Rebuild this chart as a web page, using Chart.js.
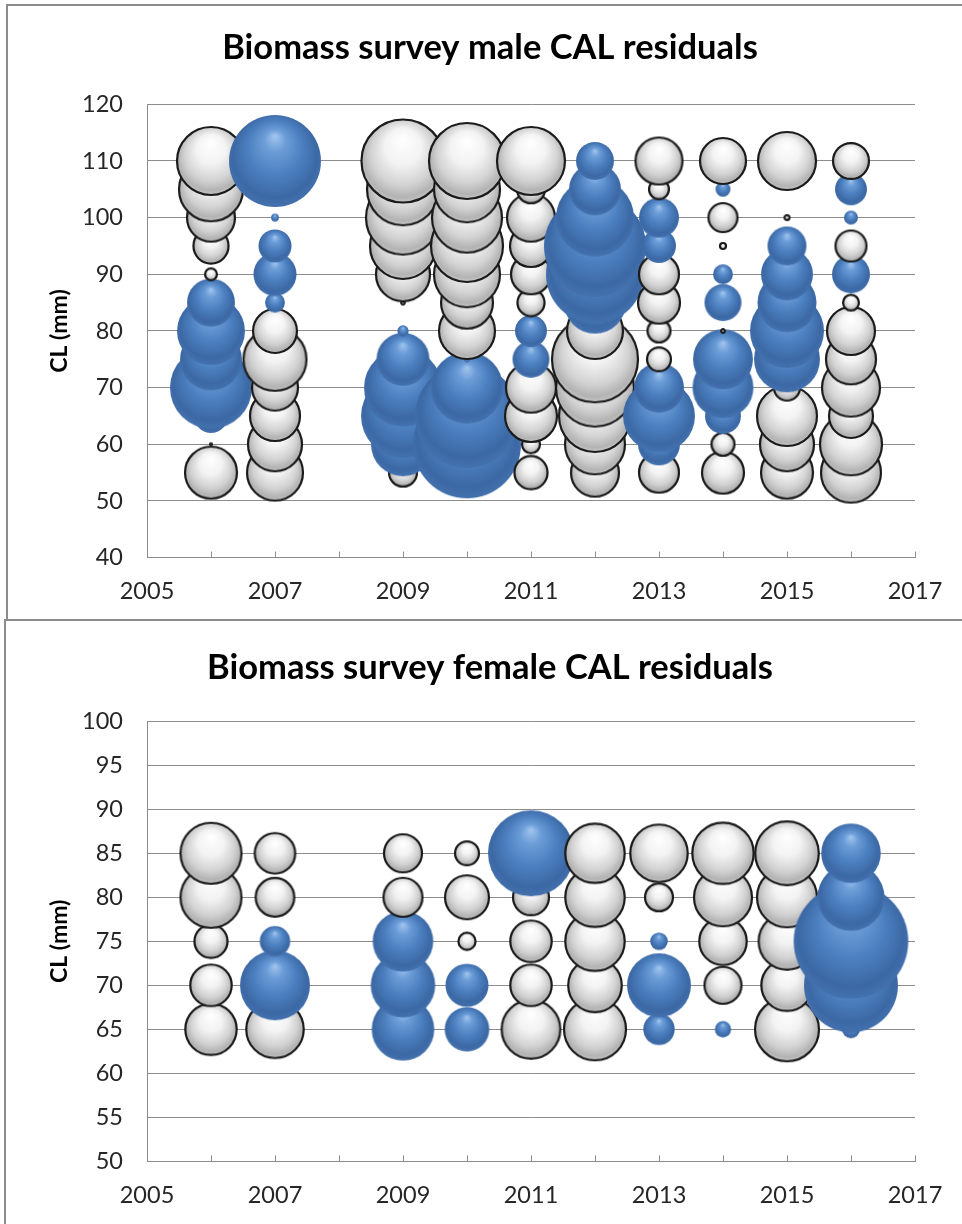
<!DOCTYPE html>
<html>
<head>
<meta charset="utf-8">
<title>Biomass survey CAL residuals</title>
<script src="https://cdn.jsdelivr.net/npm/chart.js@4/dist/chart.umd.min.js"></script>
<style>
  html, body { margin: 0; padding: 0; background: #fff; width: 962px; height: 1224px; overflow: hidden; }
  .frame { position: absolute; border: 2px solid #8c8c8c; background: #fff; box-sizing: border-box; }
  #frameMale { left: 6px; top: 4px; width: 1000px; height: 617px; }
  #frameFemale { left: 4px; top: 619px; width: 1000px; height: 700px; }
  .holder { position: absolute; left: 0; }
  #holderMale { top: 0; }
  #holderFemale { top: 620px; }
</style>
</head>
<body>
<div class="frame" id="frameMale"></div>
<div class="frame" id="frameFemale"></div>
<div class="holder" id="holderMale"><canvas id="maleChart" width="980" height="620"></canvas></div>
<div class="holder" id="holderFemale"><canvas id="femaleChart" width="980" height="604"></canvas></div>
<script>
// Survey years with length-composition data (2008 has none)
const years = [2006, 2007, 2009, 2010, 2011, 2012, 2013, 2014, 2015, 2016];

// Carapace-length bins (mm)
const maleLengths = [55, 60, 65, 70, 75, 80, 85, 90, 95, 100, 105, 110];
const femaleLengths = [65, 70, 75, 80, 85];

// Residuals per year (rows) and length bin (columns); positive = blue, negative = white
const maleResiduals = [
  [-1.82, -0.01,  0.81,  4.41,  2.56,  3.06,  1.56, -0.12, -0.86, -1.56, -2.72, -3.06], // 2006
  [-2.10, -1.96, -1.69, -1.44, -2.64, -1.32,  0.30,  1.27,  0.77,  0.06,  null,  5.52], // 2007
  [-0.56,  2.72,  4.62,  4.00,  1.89,  0.11, -0.02, -1.96, -2.89, -3.61, -3.42, -4.52], // 2009
  [ 1.56,  7.56,  7.02,  3.42,  0.04, -2.10, -1.82, -2.89, -3.42, -3.24, -2.89, -3.80], // 2010
  [-0.77, -0.25, -1.82, -1.69,  0.95,  0.72, -0.53, -1.10, -1.21, -1.56, -0.56, -3.06], // 2011
  [-1.56, -2.40, -3.42, -4.00, -4.84, -2.10,  2.56,  6.25,  6.76,  4.00,  1.82,  1.00], // 2012
  [-1.10,  1.21,  3.42,  1.69, -0.42, -0.39, -1.21, -1.10,  0.81,  1.10, -0.30, -1.50], // 2013
  [-1.21, -0.39,  0.90,  2.48,  2.40, -0.02,  0.95,  0.30, -0.04, -0.60,  0.18, -1.44], // 2014
  [-1.82, -1.96, -2.40, -0.49,  2.89,  3.61,  2.33,  1.82,  1.05, -0.03,  null, -2.25], // 2015
  [-2.40, -2.56, -1.32, -2.25, -1.69, -1.56, -0.20,  1.00, -0.68,  0.16,  0.72, -0.90]  // 2016
];

const femaleResiduals = [
  [-1.78, -1.18, -0.77, -2.48, -2.48], // 2006
  [-2.21,  3.24,  0.66, -1.03, -1.13], // 2007
  [ 2.61,  2.77,  2.45, -1.05, -1.00], // 2009
  [ 1.36,  1.27, -0.23, -1.32, -0.42], // 2010
  [-2.30, -1.18, -1.18, -0.90,  4.84], // 2011
  [-2.56, -1.93, -2.36, -2.36, -2.36], // 2012
  [ 0.70,  2.72,  0.24, -0.56, -2.21], // 2013
  [ 0.21, -0.95, -1.53, -2.25, -2.51], // 2014
  [-2.72, -1.78, -2.15, -2.40, -2.69], // 2015
  [ 0.25,  5.76,  8.50,  2.98,  2.37]  // 2016
];

// Axis ranges and tick steps
const xRange = [2005, 2017];
const maleYRange = [40, 120], maleYStep = 10;
const femaleYRange = [50, 100], femaleYStep = 5;

// Bubble area is proportional to |residual|
const BUBBLE_SCALE = 20;

const GRID = '#8c8c8c';
const FONT = 'Lato';

function buildPoints(lengths, residuals) {
  const pts = [];
  years.forEach((yr, i) => {
    lengths.forEach((len, j) => {
      const v = residuals[i][j];
      if (v === null || v === undefined) return;
      pts.push({ x: yr, y: len, r: BUBBLE_SCALE * Math.sqrt(Math.abs(v)), v: v });
    });
  });
  return pts;
}

// Shaded "3-D" bubble sprites, cached by size and sign
const spriteCache = {};
function bubbleSprite(r, positive) {
  const key = r.toFixed(2) + (positive ? 'p' : 'n');
  if (spriteCache[key]) return spriteCache[key];
  const pad = 2;
  const size = Math.max(4, Math.ceil(2 * r + 2 * pad));
  const c = document.createElement('canvas');
  c.width = size; c.height = size;
  const g = c.getContext('2d');
  const cx = size / 2, cy = size / 2;
  const R = Math.max(r - 1, 0.8);
  const grad = g.createRadialGradient(cx, cy - R * 0.55, 0, cx, cy - R * 0.05, R * 1.08);
  if (positive) {
    grad.addColorStop(0, '#a3c6ee');
    grad.addColorStop(0.22, '#6c9dd8');
    grad.addColorStop(0.55, '#4c7fbf');
    grad.addColorStop(0.85, '#3c69a5');
    grad.addColorStop(1, '#4573b0');
  } else {
    grad.addColorStop(0, '#ffffff');
    grad.addColorStop(0.4, '#f3f3f3');
    grad.addColorStop(0.72, '#d2d2d2');
    grad.addColorStop(0.9, '#b3b3b3');
    grad.addColorStop(1, '#cbcbcb');
  }
  g.beginPath();
  g.arc(cx, cy, R, 0, Math.PI * 2);
  g.fillStyle = grad;
  g.fill();
  if (!positive) {
    g.lineWidth = 2.2;
    g.strokeStyle = '#1b1b1b';
    g.stroke();
  }
  spriteCache[key] = c;
  return c;
}

function makeChart(canvasId, titleText, lengthsArr, residuals, yRange, yStep, geo) {
  const data = buildPoints(lengthsArr, residuals);
  return new Chart(document.getElementById(canvasId), {
    type: 'bubble',
    data: {
      datasets: [{
        data: data,
        clip: false,
        pointStyle: (ctx) => {
          const p = ctx.raw;
          return bubbleSprite(p.r, p.v > 0);
        },
        backgroundColor: 'rgba(0,0,0,0)',
        borderWidth: 0
      }]
    },
    options: {
      responsive: false,
      animation: false,
      events: [],
      layout: { padding: { left: 65, right: 65, top: 0, bottom: 0 } },
      plugins: {
        legend: { display: false },
        tooltip: { enabled: false },
        title: {
          display: true,
          text: titleText,
          color: '#000',
          font: { family: FONT, size: 34.5, weight: 'bold', lineHeight: 1.2 },
          padding: { top: geo.titleTop, bottom: geo.titleBottom }
        }
      },
      scales: {
        x: {
          type: 'linear',
          min: xRange[0],
          max: xRange[1],
          afterFit: (scale) => { scale.height = geo.xAxisHeight; },
          ticks: {
            stepSize: 1,
            autoSkip: false,
            maxRotation: 0,
            padding: 26,
            color: '#262626',
            font: { family: FONT, size: 23.5 },
            callback: (value) => (value % 2 === 1 ? String(value) : '')
          },
          grid: {
            display: true,
            drawOnChartArea: false,
            drawTicks: true,
            tickLength: -6,
            color: GRID,
            lineWidth: 1
          },
          border: { display: true, color: GRID, width: 1 }
        },
        y: {
          type: 'linear',
          min: yRange[0],
          max: yRange[1],
          afterFit: (scale) => { scale.width = 82; },
          ticks: {
            stepSize: yStep,
            padding: 24,
            color: '#262626',
            font: { family: FONT, size: 23.5 }
          },
          grid: { color: GRID, lineWidth: 1, drawTicks: false },
          border: { display: true, color: GRID, width: 1 },
          title: {
            display: true,
            text: 'CL (mm)',
            color: '#000',
            font: { family: FONT, size: 23, weight: 'bold', lineHeight: 1.2 },
            padding: { top: -19, bottom: 0 }
          }
        }
      }
    }
  });
}

makeChart('maleChart', 'Biomass survey male CAL residuals', maleLengths, maleResiduals,
  maleYRange, maleYStep, { titleTop: 27.3, titleBottom: 35.6, xAxisHeight: 62.4 });
makeChart('femaleChart', 'Biomass survey female CAL residuals', femaleLengths, femaleResiduals,
  femaleYRange, femaleYStep, { titleTop: 26.8, titleBottom: 33.1, xAxisHeight: 62.7 });
</script>
</body>
</html>
